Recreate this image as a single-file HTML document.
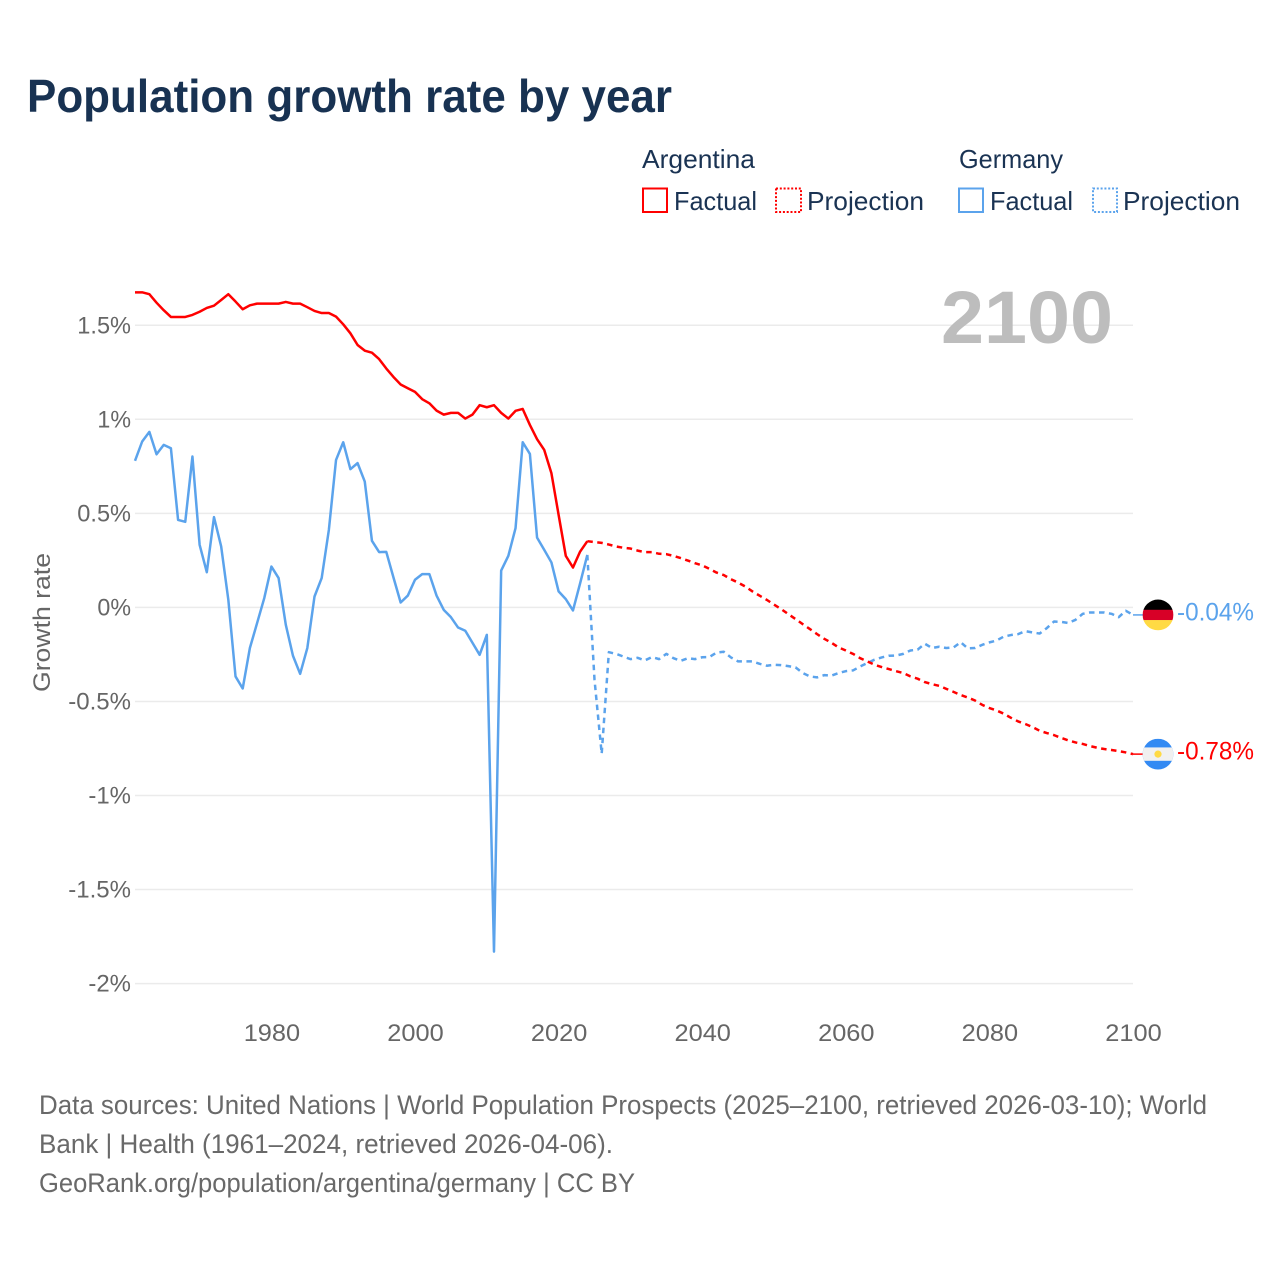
<!DOCTYPE html>
<html lang="en">
<head>
<meta charset="utf-8">
<title>Population growth rate by year</title>
<style>
html,body{margin:0;padding:0;background:#fff;width:1280px;height:1280px;overflow:hidden}
svg{display:block}
text{font-family:"Liberation Sans",sans-serif}
.legend{font-size:26px;fill:#1a3353}
.foot{font-size:26.5px;fill:#696969}
.tick{font-size:24px;fill:#666}
</style>
</head>
<body>
<svg id="chart" xmlns="http://www.w3.org/2000/svg" width="1280" height="1280" viewBox="0 0 1280 1280">
  <rect x="0" y="0" width="1280" height="1280" fill="#fff"/>
  <text x="27" y="112" font-size="46" font-weight="700" fill="#183252" textLength="645" lengthAdjust="spacingAndGlyphs">Population growth rate by year</text>

  <g>
    <text class="legend" x="642" y="168" textLength="113" lengthAdjust="spacingAndGlyphs">Argentina</text>
    <text class="legend" x="959" y="168" textLength="104" lengthAdjust="spacingAndGlyphs">Germany</text>
    <rect x="643" y="188.5" width="24" height="23.5" fill="none" stroke="#ff0000" stroke-width="2"/>
    <text class="legend" x="674" y="210" textLength="83" lengthAdjust="spacingAndGlyphs">Factual</text>
    <rect x="776" y="188.5" width="25" height="23.5" fill="none" stroke="#ff0000" stroke-width="2" stroke-dasharray="2 1.8"/>
    <text class="legend" x="807" y="210" textLength="117" lengthAdjust="spacingAndGlyphs">Projection</text>
    <rect x="959" y="188.5" width="24" height="23.5" fill="none" stroke="#5ba3ec" stroke-width="2"/>
    <text class="legend" x="990" y="210" textLength="83" lengthAdjust="spacingAndGlyphs">Factual</text>
    <rect x="1093" y="188.5" width="24" height="23.5" fill="none" stroke="#5ba3ec" stroke-width="2" stroke-dasharray="2 1.8"/>
    <text class="legend" x="1123" y="210" textLength="117" lengthAdjust="spacingAndGlyphs">Projection</text>
  </g>

  <g id="grid"></g>
  <text x="941" y="343" font-size="74" font-weight="700" fill="#bdbdbd" textLength="172" lengthAdjust="spacingAndGlyphs">2100</text>
  <g id="yticks"></g>
  <g id="xticks"></g>
  <text transform="translate(50,692) rotate(-90)" x="0" y="0" font-size="24.5" fill="#666" textLength="139" lengthAdjust="spacingAndGlyphs">Growth rate</text>
  <g id="series"></g>
  <g id="ends"></g>

  <g>
    <text class="foot" x="39" y="1114" textLength="1168" lengthAdjust="spacingAndGlyphs">Data sources: United Nations | World Population Prospects (2025–2100, retrieved 2026-03-10); World</text>
    <text class="foot" x="39" y="1153" textLength="574" lengthAdjust="spacingAndGlyphs">Bank | Health (1961–2024, retrieved 2026-04-06).</text>
    <text class="foot" x="39" y="1192" textLength="596" lengthAdjust="spacingAndGlyphs">GeoRank.org/population/argentina/germany | CC BY</text>
  </g>
</svg>
<script>
var yTickValues = [1.5, 1, 0.5, 0, -0.5, -1, -1.5, -2];
var yTickLabels = ["1.5%", "1%", "0.5%", "0%", "-0.5%", "-1%", "-1.5%", "-2%"];
var xTickYears = [1980, 2000, 2020, 2040, 2060, 2080, 2100];

var factualStartYear = 1961;
var projectionStartYear = 2024;

var argentinaFactual = [
  1.675, 1.675, 1.665, 1.62, 1.58, 1.544, 1.544, 1.544, 1.555, 1.572,
  1.592, 1.604, 1.634, 1.665, 1.626, 1.585, 1.606, 1.615, 1.615, 1.615,
  1.615, 1.624, 1.615, 1.615, 1.596, 1.576, 1.565, 1.565, 1.546, 1.505,
  1.457, 1.395, 1.365, 1.354, 1.32, 1.27, 1.225, 1.185, 1.165, 1.146,
  1.107, 1.085, 1.046, 1.025, 1.034, 1.034, 1.004, 1.025, 1.075, 1.064,
  1.075, 1.034, 1.004, 1.045, 1.055, 0.97, 0.894, 0.837, 0.713, 0.492,
  0.274, 0.212, 0.297, 0.352
];
var germanyFactual = [
  0.779, 0.882, 0.933, 0.814, 0.864, 0.846, 0.465, 0.455, 0.802, 0.333,
  0.187, 0.48, 0.324, 0.04, -0.367, -0.431, -0.216, -0.084, 0.049, 0.217,
  0.156, -0.092, -0.257, -0.353, -0.216, 0.058, 0.156, 0.412, 0.784, 0.878,
  0.735, 0.767, 0.669, 0.354, 0.294, 0.295, 0.159, 0.026, 0.063, 0.147,
  0.177, 0.177, 0.063, -0.013, -0.052, -0.107, -0.124, -0.188, -0.252, -0.146,
  -1.83, 0.196, 0.274, 0.421, 0.878, 0.816, 0.371, 0.306, 0.239, 0.085,
  0.044, -0.016, 0.129, 0.279
];
var argentinaProjection = [
  0.352, 0.347, 0.343, 0.334, 0.324, 0.317, 0.313, 0.302, 0.294, 0.294,
  0.285, 0.283, 0.274, 0.262, 0.249, 0.235, 0.223, 0.205, 0.185, 0.172,
  0.15, 0.132, 0.111, 0.085, 0.062, 0.04, 0.015, -0.009, -0.036, -0.062,
  -0.089, -0.115, -0.142, -0.167, -0.188, -0.213, -0.229, -0.247, -0.27, -0.287,
  -0.305, -0.317, -0.328, -0.339, -0.349, -0.367, -0.379, -0.397, -0.408, -0.417,
  -0.433, -0.449, -0.466, -0.479, -0.495, -0.518, -0.535, -0.548, -0.565, -0.587,
  -0.606, -0.62, -0.636, -0.656, -0.668, -0.679, -0.694, -0.707, -0.718, -0.726,
  -0.737, -0.746, -0.753, -0.758, -0.764, -0.771, -0.78
];
var germanyProjection = [
  0.279, -0.385, -0.778, -0.238, -0.247, -0.261, -0.275, -0.268, -0.282, -0.264,
  -0.275, -0.247, -0.27, -0.284, -0.27, -0.275, -0.265, -0.264, -0.24, -0.236,
  -0.266, -0.287, -0.287, -0.287, -0.3, -0.31, -0.305, -0.307, -0.312, -0.319,
  -0.349, -0.367, -0.372, -0.36, -0.363, -0.349, -0.339, -0.335, -0.314, -0.296,
  -0.278, -0.266, -0.257, -0.256, -0.247, -0.229, -0.225, -0.193, -0.216, -0.209,
  -0.216, -0.213, -0.185, -0.218, -0.216, -0.199, -0.186, -0.176, -0.155, -0.147,
  -0.142, -0.126, -0.133, -0.139, -0.11, -0.075, -0.077, -0.083, -0.066, -0.034,
  -0.027, -0.027, -0.027, -0.034, -0.052, -0.018, -0.04
];

var NS = "http://www.w3.org/2000/svg";
var RED = "#ff0000";
var BLUE = "#5ba3ec";

function xScale(year) { return 135 + (year - 1961) * (1133 - 135) / (2100 - 1961); }
function yScale(value) { return 607.4 - value * 188.1; }

function make(tag, parent, attrs) {
  var el = document.createElementNS(NS, tag);
  for (var k in attrs) { el.setAttribute(k, attrs[k]); }
  parent.appendChild(el);
  return el;
}
function labelWidth(str) {
  var w = 0;
  for (var i = 0; i < str.length; i++) {
    var c = str.charAt(i);
    w += c === "%" ? 19.5 : c === "." ? 6 : c === "-" ? 9 : 14.1;
  }
  return w;
}
function pathFor(values, startYear) {
  return values.map(function (v, i) {
    return (i ? "L" : "M") + xScale(startYear + i).toFixed(2) + " " + yScale(v).toFixed(2);
  }).join(" ");
}
function formatPct(v) { return v.toFixed(2) + "%"; }

var gridG = document.getElementById("grid");
var yG = document.getElementById("yticks");
yTickValues.forEach(function (v, i) {
  var line = make("line", gridG, { x1: 135, x2: 1133, y1: yScale(v), y2: yScale(v), stroke: "#ebebeb", "stroke-width": 1.5 });
  
  
  var t = make("text", yG, { x: 131, y: yScale(v) + 8, "text-anchor": "end", "class": "tick", textLength: labelWidth(yTickLabels[i]), lengthAdjust: "spacingAndGlyphs" });
  
  
  t.textContent = yTickLabels[i];
});

var xG = document.getElementById("xticks");
xTickYears.forEach(function (yr) {
  var label = String(yr);
  var t = make("text", xG, { x: xScale(yr) + 0.5, y: 1041, "text-anchor": "middle", "class": "tick", textLength: labelWidth(label), lengthAdjust: "spacingAndGlyphs" });
  
  
  t.textContent = label;
});

var seriesG = document.getElementById("series");
var common = { fill: "none", "stroke-width": 2.5, "stroke-linejoin": "round" };
function seriesAttrs(values, start, color, dashed) {
  var a = { d: pathFor(values, start), stroke: color };
  for (var k in common) { a[k] = common[k]; }
  if (dashed) { a["stroke-dasharray"] = "5.5 4.5"; }
  return a;
}
var lineGP = make("path", seriesG, seriesAttrs(germanyProjection, projectionStartYear, BLUE, true));


var lineAP = make("path", seriesG, seriesAttrs(argentinaProjection, projectionStartYear, RED, true));


var lineGF = make("path", seriesG, seriesAttrs(germanyFactual, factualStartYear, BLUE, false));


var lineAF = make("path", seriesG, seriesAttrs(argentinaFactual, factualStartYear, RED, false));



var endsG = document.getElementById("ends");
var clipDefs = make("defs", endsG, {});
var cx = 1158, r = 15.4;

// Germany end marker
var gVal = germanyProjection[germanyProjection.length - 1];
var gy = yScale(gVal);
var gConn = make("line", endsG, { x1: 1133, x2: 1143, y1: gy, y2: gy, stroke: BLUE, "stroke-width": 1.5 });


var gClip = make("clipPath", clipDefs, { id: "clip-de" });
make("circle", gClip, { cx: cx, cy: gy, r: r });
var gFlag = make("g", endsG, { "clip-path": "url(#clip-de)" });


make("rect", gFlag, { x: cx - r, y: gy - r, width: 2 * r, height: 2 * r / 3 + 0.3, fill: "#000" });
make("rect", gFlag, { x: cx - r, y: gy - r + 2 * r / 3, width: 2 * r, height: 2 * r / 3 + 0.3, fill: "#d80027" });
make("rect", gFlag, { x: cx - r, y: gy - r + 4 * r / 3, width: 2 * r, height: 2 * r / 3, fill: "#ffda44" });
var gLabel = make("text", endsG, { x: 1177, y: gy + 5.5, "font-size": 25, fill: BLUE, textLength: 77, lengthAdjust: "spacingAndGlyphs" });


gLabel.textContent = formatPct(gVal);

// Argentina end marker
var aVal = argentinaProjection[argentinaProjection.length - 1];
var ay = yScale(aVal);
var aConn = make("line", endsG, { x1: 1133, x2: 1143, y1: ay, y2: ay, stroke: RED, "stroke-width": 1.5 });


var aClip = make("clipPath", clipDefs, { id: "clip-ar" });
make("circle", aClip, { cx: cx, cy: ay, r: r });
var aFlag = make("g", endsG, { "clip-path": "url(#clip-ar)" });


make("rect", aFlag, { x: cx - r, y: ay - r, width: 2 * r, height: 2 * r, fill: "#338af3" });
make("rect", aFlag, { x: cx - r, y: ay - 0.435 * r, width: 2 * r, height: 0.87 * r, fill: "#f0f0f0" });
make("circle", aFlag, { cx: cx, cy: ay, r: 3.6, fill: "#ffda44" });
var aLabel = make("text", endsG, { x: 1177, y: ay + 5.5, "font-size": 25, fill: RED, textLength: 77, lengthAdjust: "spacingAndGlyphs" });


aLabel.textContent = formatPct(aVal);
</script>
</body>
</html>
